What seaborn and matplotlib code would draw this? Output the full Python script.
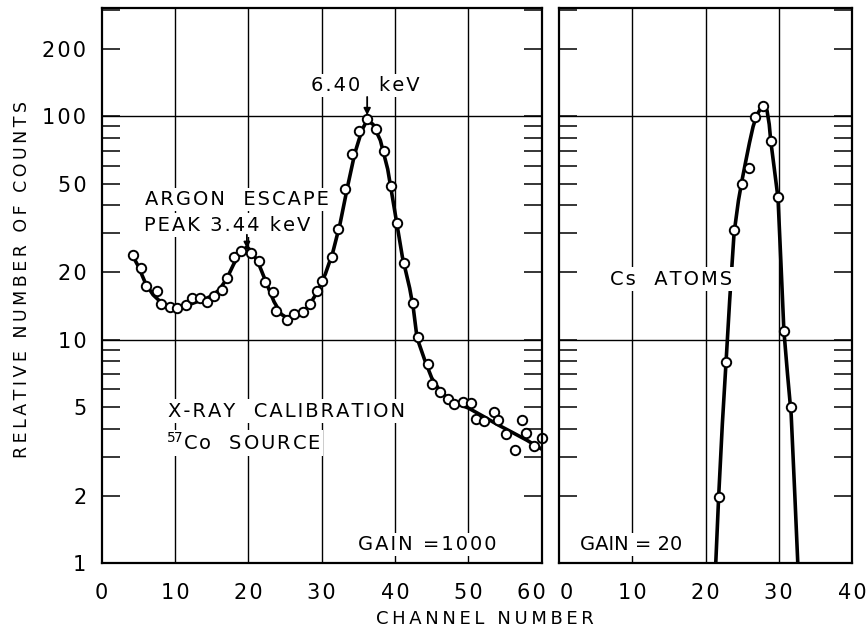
import numpy as np
import pandas as pd
import matplotlib
matplotlib.use("Agg")
import matplotlib.pyplot as plt
from matplotlib.ticker import FixedLocator, FixedFormatter, NullFormatter
from matplotlib.transforms import ScaledTranslation
import seaborn as sns

# ---------------- data ----------------
# Left panel: X-ray calibration (57Co source), gain = 1000
cal_channel = [4.3, 5.4, 6.0, 7.5, 8.1, 9.3, 10.2, 11.5, 12.3, 13.4, 14.3, 15.3,
               16.4, 17.1, 18.1, 19.0, 20.3, 21.5, 22.2, 23.3, 23.8, 25.2, 26.2,
               27.5, 28.4, 29.3, 30.1, 31.4, 32.2, 33.2, 34.1, 35.1, 36.2, 37.4,
               38.5, 39.5, 40.2, 41.2, 42.4, 43.1, 44.5, 45.0, 46.1, 47.2, 48.1,
               49.3, 50.4, 51.0, 52.1, 53.5, 54.1, 55.1, 56.4, 57.3, 57.9, 59.0,
               60.0]
cal_counts = [23.9, 20.9, 17.4, 16.6, 14.5, 14.0, 13.9, 14.3, 15.4, 15.4, 14.8, 15.7,
              16.7, 18.8, 23.5, 25.0, 24.4, 22.4, 18.2, 16.3, 13.5, 12.3, 13.1,
              13.3, 14.4, 16.5, 18.4, 23.4, 31.3, 47.1, 67.7, 86.1, 97.3, 87.9,
              70.0, 48.7, 33.2, 22.1, 14.6, 10.3, 7.79, 6.36, 5.82, 5.41, 5.14,
              5.25, 5.23, 4.42, 4.33, 4.75, 4.37, 3.78, 3.20, 4.39, 3.82, 3.35,
              3.64]

# hand-drawn fitted curve through the calibration points
cal_curve_channel = [4.3, 5.0, 6.0, 7.0, 8.0, 9.0, 10.0, 11.0, 12.0, 13.0, 14.0,
                     15.0, 16.0, 17.0, 18.0, 19.0, 19.8, 20.5, 21.5, 22.5, 23.5,
                     24.5, 25.5, 26.5, 27.5, 28.5, 29.5, 30.5, 31.5, 32.5, 33.5,
                     34.5, 35.5, 36.2, 37.0, 38.0, 39.0, 40.0, 41.0, 42.0, 42.5,
                     43.0, 44.0, 45.0, 46.0, 47.0, 48.0, 50.0, 52.0, 54.0, 56.0,
                     58.0, 60.0]
cal_curve_counts = [23.5, 21.3, 17.8, 15.9, 14.8, 14.2, 13.9, 14.0, 14.4, 14.8, 15.2,
                    15.7, 16.7, 18.6, 21.8, 24.8, 26.0, 24.8, 21.5, 17.8, 14.8,
                    13.0, 12.4, 12.6, 13.3, 14.6, 16.6, 19.7, 24.5, 33.0, 48.0,
                    68.0, 87.0, 96.0, 92.0, 78.0, 58.0, 37.0, 23.5, 17.0, 13.8,
                    10.2, 8.2, 6.75, 6.0, 5.55, 5.25, 4.95, 4.55, 4.17, 3.85,
                    3.55, 3.24]

# Right panel: Cs atoms, gain = 20
cs_channel = [21.8, 22.8, 23.9, 25.0, 26.0, 26.8, 27.9, 28.9, 29.9, 30.7, 31.7]
cs_counts = [1.98, 7.93, 30.9, 49.9, 58.4, 98.8, 110.6, 77.1, 43.5, 10.9, 5.02]

cs_curve_channel = [21.4, 21.8, 22.3, 22.8, 23.3, 23.9, 24.5, 25.0, 25.5, 26.0, 26.5,
                    27.0, 27.5, 28.0, 28.4, 28.7, 28.9, 29.4, 29.9, 30.3, 30.7,
                    31.2, 31.7, 32.2, 32.6]
cs_curve_counts = [1.0, 2.0, 4.2, 7.9, 15.0, 30.0, 42.0, 52.0, 63.0, 76.0, 90.0,
                   101.0, 108.0, 111.0, 106.0, 92.0, 78.0, 58.0, 43.0, 22.0, 11.0,
                   7.0, 4.6, 2.0, 1.0]

y_major = [1, 2, 5, 10, 20, 50, 100, 200]
y_major_labels = ["1", "2", "5", "10", "20", "50", "100", "200"]
y_minor = [3, 4, 6, 7, 8, 9, 30, 40, 60, 70, 80, 90, 300]
left_xticks = [0, 10, 20, 30, 40, 50, 60]
right_xticks = [0, 10, 20, 30, 40]

# ---------------- helpers ----------------
HAIR = "\u200a"
THIN = "\u2009"


def spaced(s, sep):
    """Letter-spaced lettering like the original stencil text."""
    return sep.join(list(s))


# ---------------- figure ----------------
sns.set_theme(style="white")
plt.rcParams["font.family"] = ["DejaVu Sans"]
plt.rcParams["mathtext.fontset"] = "dejavusans"

W, H = 867, 632
fig = plt.figure(figsize=(W / 100, H / 100), dpi=100, facecolor="white")


def frac(x0, y0, x1, y1):
    return [x0 / W, 1 - y1 / H, (x1 - x0) / W, (y1 - y0) / H]


axL = fig.add_axes(frac(101.7, 8, 541.7, 563.3))
axR = fig.add_axes(frac(559, 8, 852, 563.3))

cal_pts = pd.DataFrame({"channel": cal_channel, "counts": cal_counts})
cal_fit = pd.DataFrame({"channel": cal_curve_channel, "counts": cal_curve_counts})
cs_pts = pd.DataFrame({"channel": cs_channel, "counts": cs_counts})
cs_fit = pd.DataFrame({"channel": cs_curve_channel, "counts": cs_curve_counts})

grid_kw = dict(color="black", lw=1.0, zorder=1)

for ax, fit, pts, xmax, xt, grids in [
    (axL, cal_fit, cal_pts, 60, left_xticks, [10, 20, 30, 40, 50]),
    (axR, cs_fit, cs_pts, 40, right_xticks, [10, 20, 30]),
]:
    ax.set_facecolor("white")
    ax.set_yscale("log")
    for g in grids:
        ax.axvline(g, **grid_kw)
    for g in [10, 100]:
        ax.axhline(g, **grid_kw)
    sns.lineplot(data=fit, x="channel", y="counts", ax=ax, sort=False,
                 estimator=None, color="black", lw=2.6, zorder=4)
    sns.scatterplot(data=pts, x="channel", y="counts", ax=ax, marker="o", s=46,
                    facecolor="white", edgecolor="black", linewidth=1.4,
                    zorder=6, clip_on=False)
    ax.set_xlim(0, xmax)
    ax.set_ylim(1, 305)
    ax.set_xlabel("")
    ax.set_ylabel("")
    ax.yaxis.set_major_locator(FixedLocator(y_major))
    ax.yaxis.set_minor_locator(FixedLocator(y_minor))
    ax.yaxis.set_minor_formatter(NullFormatter())
    ax.set_xticks(xt)
    ax.set_xticklabels([spaced(str(v), HAIR) for v in xt])
    ax.tick_params(axis="y", which="both", direction="in", left=True, right=True,
                   length=13, width=1.1, color="black")
    ax.tick_params(axis="x", which="both", bottom=False, length=0, pad=14,
                   labelsize=15, labelcolor="black")
    for s in ax.spines.values():
        s.set_color("black")
        s.set_linewidth(1.6)
        s.set_zorder(7)
    ax.grid(False)

axL.yaxis.set_major_formatter(FixedFormatter([spaced(t, HAIR) for t in y_major_labels]))
axL.tick_params(axis="y", which="major", labelsize=15, pad=11, labelcolor="black")
axR.yaxis.set_major_formatter(NullFormatter())

# nudge the crowded "60" / "0" labels apart, as in the original
labL = axL.get_xticklabels()
labL[-1].set_transform(labL[-1].get_transform()
                       + ScaledTranslation(-10 / 100, 0, fig.dpi_scale_trans))
labR = axR.get_xticklabels()
labR[0].set_transform(labR[0].get_transform()
                      + ScaledTranslation(7 / 100, 0, fig.dpi_scale_trans))

# ---------------- annotations ----------------
bb = dict(facecolor="white", edgecolor="none", pad=1.5)
tkw = dict(fontsize=14, color="black", va="center", ha="left", zorder=5, bbox=bb)

axL.text(28.5, 137.7, spaced("6.40", HAIR) + "   " + spaced("keV", HAIR), **tkw)
axL.annotate("", xy=(36.2, 101), xytext=(36.2, 122),
             arrowprops=dict(arrowstyle="-|>", color="black", lw=1.3,
                             mutation_scale=10, shrinkA=0, shrinkB=0), zorder=6)
axL.text(5.9, 42.5, spaced("ARGON  ESCAPE", HAIR), **tkw)
axL.text(5.8, 32.6, spaced("PEAK 3.44 keV", HAIR), **tkw)
axL.annotate("", xy=(19.8, 25.6), xytext=(19.8, 29.5),
             arrowprops=dict(arrowstyle="-|>", color="black", lw=1.3,
                             mutation_scale=9, shrinkA=0, shrinkB=0), zorder=6)
axL.text(9.0, 4.80, spaced("X-RAY  CALIBRATION", HAIR), **tkw)
axL.text(8.8, 3.45, r"$^{57}$" + spaced("Co  SOURCE", HAIR), **tkw)
axL.text(35.0, 1.21, spaced("GAIN =1000", HAIR), **tkw)

axR.text(7.0, 18.7, spaced("Cs  ATOMS", HAIR), **tkw)
axR.text(2.9, 1.21, "GAIN = 20", **tkw)

fig.text(22 / W, 1 - 280 / H, spaced("RELATIVE NUMBER OF COUNTS", THIN), rotation=90,
         fontsize=12.5, color="black", ha="center", va="center")
fig.text(485 / W, 1 - 619 / H, spaced("CHANNEL NUMBER", THIN), fontsize=13,
         color="black", ha="center", va="center")

fig.savefig("out.png", dpi=100, facecolor="white")
